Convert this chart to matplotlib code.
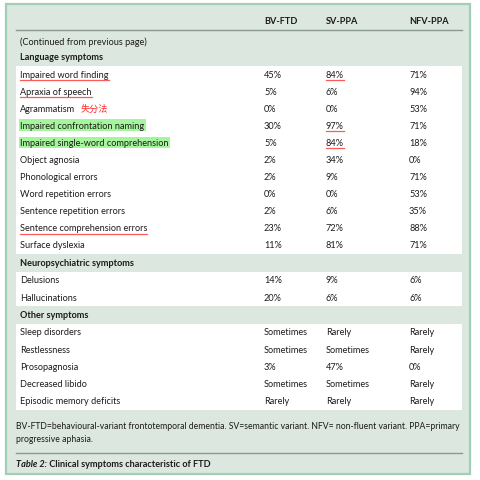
import matplotlib
matplotlib.use("Agg")
import matplotlib.pyplot as plt
from matplotlib.patches import Rectangle

columns = ["BV-FTD", "SV-PPA", "NFV-PPA"]

lang_rows = ["Impaired word finding", "Apraxia of speech", "Agrammatism",
             "Impaired confrontation naming", "Impaired single-word comprehension",
             "Object agnosia", "Phonological errors", "Word repetition errors",
             "Sentence repetition errors", "Sentence comprehension errors",
             "Surface dyslexia"]
lang_bv = ["45%", "5%", "0%", "30%", "5%", "2%", "2%", "0%", "2%", "23%", "11%"]
lang_sv = ["84%", "6%", "0%", "97%", "84%", "34%", "9%", "0%", "6%", "72%", "81%"]
lang_nfv = ["71%", "94%", "53%", "71%", "18%", "0%", "71%", "53%", "35%", "88%", "71%"]

neuro_rows = ["Delusions", "Hallucinations"]
neuro_bv = ["14%", "20%"]
neuro_sv = ["9%", "6%"]
neuro_nfv = ["6%", "6%"]

other_rows = ["Sleep disorders", "Restlessness", "Prosopagnosia", "Decreased libido",
              "Episodic memory deficits"]
other_bv = ["Sometimes", "Sometimes", "3%", "Sometimes", "Rarely"]
other_sv = ["Rarely", "Sometimes", "47%", "Sometimes", "Rarely"]
other_nfv = ["Rarely", "Rarely", "0%", "Rarely", "Rarely"]

sections = [
    ("Language symptoms", lang_rows, lang_bv, lang_sv, lang_nfv),
    ("Neuropsychiatric symptoms", neuro_rows, neuro_bv, neuro_sv, neuro_nfv),
    ("Other symptoms", other_rows, other_bv, other_sv, other_nfv),
]

underlined_labels = {"Impaired word finding", "Apraxia of speech", "Sentence comprehension errors"}
highlighted_labels = {"Impaired confrontation naming", "Impaired single-word comprehension"}
underlined_sv = {"Impaired word finding", "Impaired confrontation naming",
                 "Impaired single-word comprehension"}
note_cn = "失分法"

footnote = ("BV-FTD=behavioural-variant frontotemporal dementia. SV=semantic variant. "
            "NFV= non-fluent variant. PPA=primary\nprogressive aphasia.")
caption_bold = "Table 2:"
caption_rest = " Clinical symptoms characteristic of FTD"

W, H = 480, 481
fig = plt.figure(figsize=(W / 100, H / 100), dpi=100)
fig.patch.set_facecolor("white")
ax = fig.add_axes([0, 0, 1, 1])
ax.set_xlim(0, W)
ax.set_ylim(H, 0)
ax.axis("off")

FONT = "Lato"
FS = 6.6
TXT = "#1e1a1b"
BG = "#dbe7df"
BORDER = "#9fd0b6"

ax.add_patch(Rectangle((6, 5), 464, 470, facecolor=BG, edgecolor=BORDER, lw=1.6, zorder=0))

# header
xl = 20
xc = [264, 326, 409]
for x, c in zip(xc, columns):
    ax.text(x, 21, c, fontsize=FS, fontweight="bold", family=FONT, color=TXT, va="center")
ax.plot([16, 462], [31, 31], color="#8a9a90", lw=1.0)
ax.text(xl, 42, "(Continued from previous page)", fontsize=FS, family=FONT, color=TXT, va="center")

renderer = fig.canvas.get_renderer()

def underline(t, y):
    bb = t.get_window_extent(renderer=renderer)
    x0, x1 = bb.x0, bb.x1
    ax.plot([x0, x1], [y + 5.8, y + 5.8], color="#ff5a5a", lw=0.9, zorder=3)

sec_y = [58, 264, 316]
row_step = 17.1
for (title, rows, bv, sv, nfv), ys in zip(sections, sec_y):
    ax.text(xl, ys, title, fontsize=FS, fontweight="bold", family=FONT, color=TXT, va="center")
    top = ys + 8.5
    n = len(rows)
    ax.add_patch(Rectangle((16, top), 446, n * row_step + 0.5, facecolor="white",
                           edgecolor="none", zorder=1))
    for i, r in enumerate(rows):
        y = top + 8.5 + i * row_step
        if r in highlighted_labels:
            t = ax.text(xl, y, r, fontsize=FS, family=FONT, color=TXT, va="center", zorder=4,
                        bbox=dict(boxstyle="square,pad=0.15", fc="#a4f59c", ec="none"))
        else:
            t = ax.text(xl, y, r, fontsize=FS, family=FONT, color=TXT, va="center", zorder=4)
        if r in underlined_labels:
            underline(t, y)
        if r == "Agrammatism":
            bb = t.get_window_extent(renderer=renderer)
            ax.text(bb.x1 + 5, y, note_cn, fontsize=FS, family="Noto Sans CJK SC",
                    color="#ff2a2a", va="center", zorder=4)
        for x, vals in zip(xc, (bv, sv, nfv)):
            tv = ax.text(x, y, vals[i], fontsize=FS, family=FONT, color=TXT, va="center", zorder=4)
            if vals is sv and r in underlined_sv:
                underline(tv, y)

ax.text(16, 433, footnote, fontsize=6.2, family=FONT, color=TXT, va="center",
        linespacing=1.55)
ax.plot([16, 462], [454, 454], color="#8a9a90", lw=1.0)
t1 = ax.text(16, 465, caption_bold, fontsize=FS, fontweight="bold", style="italic",
             family=FONT, color=TXT, va="center")
bb = t1.get_window_extent(renderer=renderer)
ax.text(bb.x1, 465, caption_rest, fontsize=FS, fontweight="bold", family=FONT, color=TXT,
        va="center")

fig.savefig("out.png", dpi=100, facecolor="white")
